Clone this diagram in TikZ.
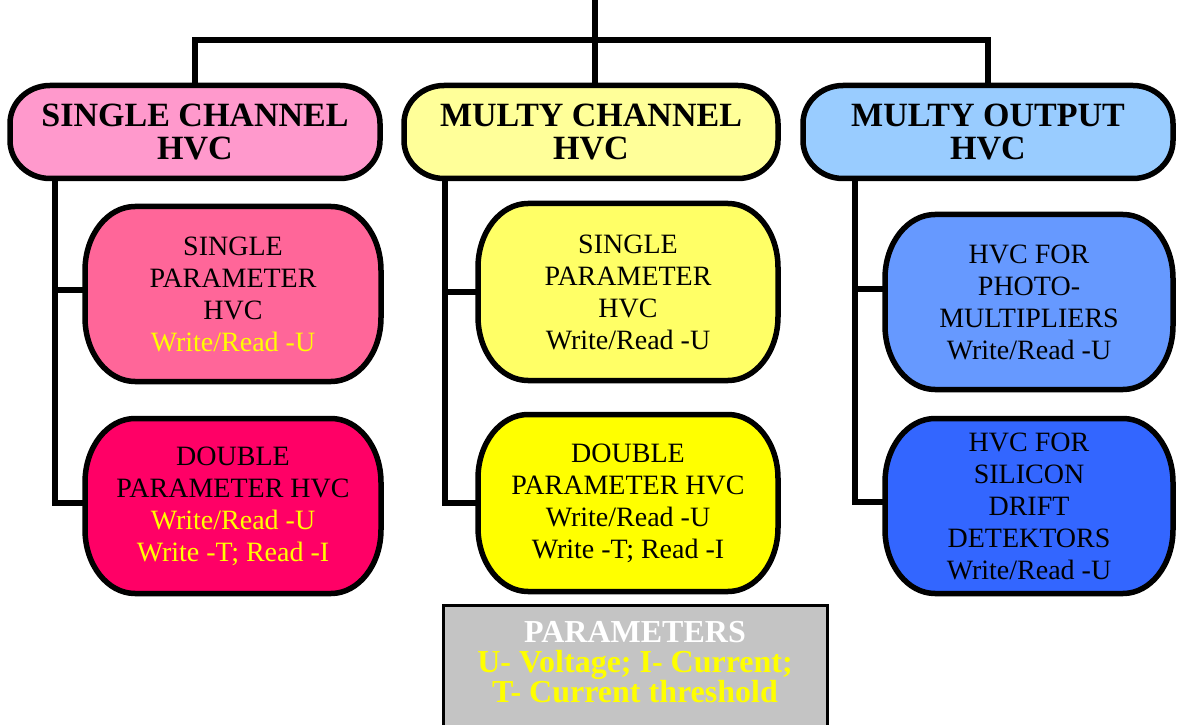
\documentclass[tikz,border=0pt]{standalone}
\usepackage{fontspec}
\setmainfont{Liberation Serif}
\usetikzlibrary{backgrounds}
\definecolor{pinkA}{HTML}{FF99CC}
\definecolor{yellowA}{HTML}{FFFF99}
\definecolor{blueA}{HTML}{99CCFF}
\definecolor{pinkB}{HTML}{FF6699}
\definecolor{pinkC}{HTML}{FF0066}
\definecolor{yellowB}{HTML}{FFFF66}
\definecolor{yellowC}{HTML}{FFFF00}
\definecolor{blueB}{HTML}{6699FF}
\definecolor{blueC}{HTML}{3366FF}
\definecolor{txtyellow}{HTML}{FFFF00}
\definecolor{paramgray}{HTML}{C4C4C4}
\newcommand\ebox[4]{%
  \filldraw[boxline, fill=#2]
   ([xshift=#3]#1.north west) -- ([xshift=-#3]#1.north east)
   arc[start angle=90,end angle=0,x radius=#3,y radius=#4]
   -- ([yshift=#4]#1.south east)
   arc[start angle=0,end angle=-90,x radius=#3,y radius=#4]
   -- ([xshift=#3]#1.south west)
   arc[start angle=270,end angle=180,x radius=#3,y radius=#4]
   -- ([yshift=-#4]#1.north west)
   arc[start angle=180,end angle=90,x radius=#3,y radius=#4]
   -- cycle;}
\tikzset{
  boxline/.style={line width=5.5pt, draw=black},
  conn/.style={line width=5.5pt, draw=black},
  topbox/.style={align=center, inner sep=0pt, outer sep=0pt, minimum width=370pt, minimum height=93pt,
    font=\bfseries\fontsize{34}{33}\selectfont},
  subbox/.style={align=center, inner sep=0pt, outer sep=0pt, minimum width=296pt, minimum height=175pt,
    font=\fontsize{28}{32}\selectfont},
  parambox/.style={align=center, inner sep=0pt, outer sep=0pt,
    font=\bfseries\fontsize{32}{30}\selectfont},
}
\begin{document}
\begin{tikzpicture}[x=1pt,y=1pt]
\useasboundingbox (0,0) rectangle (1178,724);
% top level
\node[topbox] (T1) at (195,592) {SINGLE CHANNEL\\HVC};
\node[topbox, minimum width=374pt] (T2) at (591,592) {MULTY CHANNEL\\HVC};
\node[topbox] (T3) at (988,592) {MULTY OUTPUT\\HVC};
% column 1
\node[subbox] (S1) at (233,430) {SINGLE\\PARAMETER\\HVC\\\textcolor{txtyellow}{Write/Read -U}};
\node[subbox] (D1) at (233,218) {DOUBLE\\PARAMETER HVC\\\textcolor{txtyellow}{Write/Read -U}\\\textcolor{txtyellow}{Write -T; Read -I}};
% column 2
\node[subbox, minimum width=300pt, minimum height=177pt] (S2) at (628,432) {SINGLE\\PARAMETER\\HVC\\Write/Read -U};
\node[subbox, minimum width=300pt, minimum height=177pt] (D2) at (628,221) {DOUBLE\\PARAMETER HVC\\Write/Read -U\\Write -T; Read -I};
% column 3
\node[subbox, minimum width=288pt] (S3) at (1029,422) {HVC FOR\\PHOTO-\\MULTIPLIERS\\Write/Read -U};
\node[subbox, minimum width=288pt] (D3) at (1029,218) {HVC FOR\\SILICON\\DRIFT\\DETEKTORS\\Write/Read -U};
% parameters
\coordinate (Pnw) at (443,119);
\coordinate (Pse) at (827,-4);
\node[parambox] (P) at (635,62) {\textcolor{white}{PARAMETERS}\\\textcolor{txtyellow}{U- Voltage; I- Current;}\\\textcolor{txtyellow}{T- Current threshold}};
% helper coordinates
\coordinate (top) at (595,724);
\coordinate (hub) at (595,684);
\coordinate (c1) at (55,0);
\coordinate (c2) at (445,0);
\coordinate (c3) at (855,0);
\begin{scope}[on background layer]
  \draw[conn] (top) -- (top |- T2.north);
  \draw[conn] (T1.north) |- (hub) -| (T3.north);
  \draw[conn] (c1 |- T1.south) |- ([yshift=4pt]S1.west);
  \draw[conn] (c1 |- T1.south) |- ([yshift=3pt]D1.west);
  \draw[conn] (c2 |- T2.south) |- (S2.west);
  \draw[conn] (c2 |- T2.south) |- (D2.west);
  \draw[conn] (c3 |- T3.south) |- ([yshift=13pt]S3.west);
  \draw[conn] (c3 |- T3.south) |- ([yshift=4pt]D3.west);
  \ebox{T1}{pinkA}{40}{38}
  \ebox{T2}{yellowA}{40}{38}
  \ebox{T3}{blueA}{40}{38}
  \ebox{S1}{pinkB}{50}{64}
  \ebox{D1}{pinkC}{50}{64}
  \ebox{S2}{yellowB}{50}{64}
  \ebox{D2}{yellowC}{50}{64}
  \ebox{S3}{blueB}{50}{64}
  \ebox{D3}{blueC}{50}{64}
  \filldraw[fill=paramgray, draw=black, line width=3pt] (Pnw) rectangle (Pse);
\end{scope}
\end{tikzpicture}
\end{document}
